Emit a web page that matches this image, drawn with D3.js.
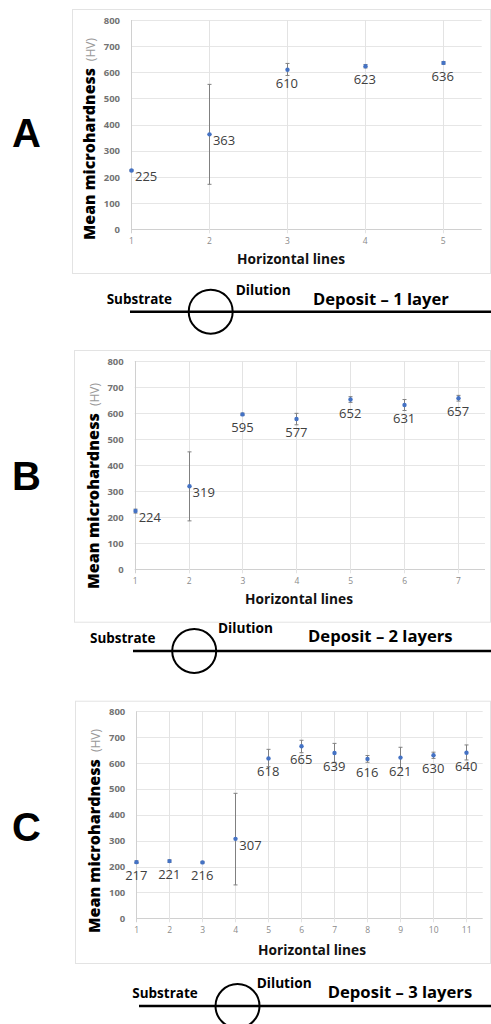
<!DOCTYPE html>
<html><head><meta charset="utf-8">
<script src="https://cdn.jsdelivr.net/npm/d3@7"></script>
<style>
html,body{margin:0;padding:0;background:#fff;}
svg{display:block;}
</style></head>
<body>
<svg id="chart" width="491" height="1024"></svg>
<script>
// ---------- DATA ----------
const linesA = [1, 2, 3, 4, 5];
const meanA  = [225, 363, 610, 623, 636];
const lowA   = [222, 172, 588, 617, 631];
const highA  = [228, 554, 634, 630, 641];
const labelPosA = ["right", "right", "below", "below", "below"];

const linesB = [1, 2, 3, 4, 5, 6, 7];
const meanB  = [224, 319, 595, 577, 652, 631, 657];
const lowB   = [216, 186, 591, 555, 641, 610, 646];
const highB  = [231, 451, 600, 599, 663, 652, 668];
const labelPosB = ["right", "right", "below", "below", "below", "below", "below"];

const linesC = [1, 2, 3, 4, 5, 6, 7, 8, 9, 10, 11];
const meanC  = [217, 221, 216, 307, 618, 665, 639, 616, 621, 630, 640];
const lowC   = [212, 216, 213, 129, 586, 640, 603, 603, 582, 618, 612];
const highC  = [222, 226, 220, 483, 653, 688, 676, 629, 661, 642, 670];
const labelPosC = ["below", "below", "below", "right", "below", "below", "below", "below", "below", "below", "below"];

const yTicks = [0, 100, 200, 300, 400, 500, 600, 700, 800];
const panelLetters = ["A", "B", "C"];
const yTitleMain = "Mean microhardness";
const yTitleUnit = "(HV)";
const xTitle = "Horizontal lines";
const depositLabels = ["Deposit \u2013 1 layer", "Deposit \u2013 2 layers", "Deposit \u2013 3 layers"];
const substrateLabel = "Substrate";
const dilutionLabel = "Dilution";

// ---------- LAYOUT ----------
const panels = [
  { lines: linesA, mean: meanA, low: lowA, high: highA, pos: labelPosA,
    box: [72, 9, 490, 273], px: [131, 481.7], py: [229.3, 20],
    letterY: 146.5, yTitle: { x: 95, y: 240, w: 172 }, xTitleAt: [291, 263.5],
    diag: { lineY: 311.7, lineX: 130, cx: 210.7, r: 22, sub: [106.7, 304], dil: [235.7, 295], dep: [313, 305, 136] } },
  { lines: linesB, mean: meanB, low: lowB, high: highB, pos: labelPosB,
    box: [74, 350, 490, 621.7], px: [134.7, 485], py: [569.3, 361],
    letterY: 490, yTitle: { x: 99, y: 589, w: 176 }, xTitleAt: [299, 604],
    diag: { lineY: 651, lineX: 133, cx: 194.2, r: 22, sub: [90, 643.3], dil: [218, 633.3], dep: [308, 642.3, 144.7] } },
  { lines: linesC, mean: meanC, low: lowC, high: highC, pos: labelPosC,
    box: [75, 700.7, 490, 963], px: [136.3, 482.7], py: [918.3, 711.3],
    letterY: 840.5, yTitle: { x: 99.5, y: 933, w: 174 }, xTitleAt: [312, 955],
    diag: { lineY: 1006, lineX: 139, cx: 237.5, r: 22, sub: [132.3, 998.3], dil: [256.7, 988.3], dep: [327.7, 998.3, 144.6] } }
];

const svg = d3.select("#chart");
const FONT = "'Open Sans', 'DejaVu Sans', sans-serif";

// scale a text's font size so that its natural width matches a target width
function fitWidth(sel, target) {
  const w = sel.node().getComputedTextLength();
  if (w > 0) sel.attr("font-size", (+sel.attr("font-size")) * target / w);
  return sel;
}

panels.forEach((p, i) => {
  const g = svg.append("g");
  const n = p.lines.length;
  const x = d3.scaleLinear().domain([p.lines[0], p.lines[n - 1] + 0.5]).range(p.px);
  const y = d3.scaleLinear().domain([0, 800]).range(p.py);

  // chart frame
  g.append("rect")
    .attr("x", p.box[0] + 0.5).attr("y", p.box[1] + 0.5)
    .attr("width", p.box[2] - p.box[0]).attr("height", p.box[3] - p.box[1])
    .attr("fill", "#fff").attr("stroke", "#e3e3e3").attr("stroke-width", 1);

  // horizontal gridlines
  g.append("g").selectAll("line").data(yTicks).join("line")
    .attr("x1", x.range()[0]).attr("x2", x.range()[1])
    .attr("y1", d => Math.round(y(d)) + 0.5).attr("y2", d => Math.round(y(d)) + 0.5)
    .attr("stroke", d => d === 0 ? "#d0d0d0" : "#e6e6e6").attr("stroke-width", 1);

  // vertical gridlines (with ticks below axis)
  g.append("g").selectAll("line").data(p.lines).join("line")
    .attr("x1", d => Math.round(x(d)) + 0.5).attr("x2", d => Math.round(x(d)) + 0.5)
    .attr("y1", y(800)).attr("y2", y(0) + 4)
    .attr("stroke", d => d === p.lines[0] ? "#d0d0d0" : "#e3e3e3").attr("stroke-width", 1);

  // y axis labels
  const yAxis = d3.axisLeft(y).tickValues(yTicks).tickSize(0).tickPadding(11);
  const ya = g.append("g").attr("transform", `translate(${x.range()[0]},0)`).call(yAxis);
  ya.select(".domain").remove();
  ya.selectAll("text").attr("font-family", FONT).attr("font-size", 9.5)
    .attr("font-weight", "bold").attr("fill", "#737373");

  // x axis labels
  const xAxis = d3.axisBottom(x).tickValues(p.lines).tickFormat(d3.format("d")).tickSize(0).tickPadding(9);
  const xa = g.append("g").attr("transform", `translate(0,${y(0)})`).call(xAxis);
  xa.select(".domain").remove();
  xa.selectAll("text").attr("font-family", FONT).attr("font-size", 8.5).attr("fill", "#8a8a8a");

  // error bars
  const eb = g.append("g").attr("stroke", "#808080").attr("stroke-width", 1);
  p.lines.forEach((l, k) => {
    const cx = Math.round(x(l)) + 0.5;
    eb.append("line").attr("x1", cx).attr("x2", cx).attr("y1", y(p.low[k])).attr("y2", y(p.high[k]));
    eb.append("line").attr("x1", cx - 2).attr("x2", cx + 2).attr("y1", y(p.low[k])).attr("y2", y(p.low[k]));
    eb.append("line").attr("x1", cx - 2).attr("x2", cx + 2).attr("y1", y(p.high[k])).attr("y2", y(p.high[k]));
  });

  // points
  g.append("g").selectAll("circle").data(p.lines).join("circle")
    .attr("cx", d => Math.round(x(d)) + 0.5).attr("cy", (d, k) => y(p.mean[k]))
    .attr("r", 2.2).attr("fill", "#4472c4");

  // value labels
  g.append("g").selectAll("text").data(p.lines).join("text")
    .attr("x", (d, k) => p.pos[k] === "right" ? x(d) + 4 : x(d))
    .attr("y", (d, k) => p.pos[k] === "right" ? y(p.mean[k]) + 11 : y(p.mean[k]) + 18)
    .attr("text-anchor", (d, k) => p.pos[k] === "right" ? "start" : "middle")
    .attr("font-family", FONT).attr("font-size", 13).attr("fill", "#404040")
    .text((d, k) => p.mean[k]);

  // y title
  const yt = g.append("text")
    .attr("transform", `translate(${p.yTitle.x},${p.yTitle.y}) rotate(-90)`)
    .attr("font-family", FONT);
  const ytm = yt.append("tspan").attr("font-size", 16).attr("font-weight", 800).attr("fill", "#000").text(yTitleMain);
  fitWidth(ytm, p.yTitle.w);
  yt.append("tspan").attr("font-size", 12).attr("fill", "#9a9a9a").attr("dx", 7).text(yTitleUnit);

  // x title
  const xt = g.append("text").attr("x", p.xTitleAt[0]).attr("y", p.xTitleAt[1])
    .attr("text-anchor", "middle").attr("font-family", FONT).attr("font-size", 12.5)
    .attr("font-weight", "bold").attr("fill", "#111").text(xTitle);
  fitWidth(xt, 108);

  // panel letter
  g.append("text").attr("x", 12).attr("y", p.letterY)
    .attr("font-family", "'Liberation Sans', Arial, sans-serif").attr("font-size", 40)
    .attr("font-weight", "bold").attr("fill", "#000").text(panelLetters[i]);

  // schematic diagram
  const d = p.diag;
  g.append("line").attr("x1", d.lineX).attr("x2", 491).attr("y1", d.lineY).attr("y2", d.lineY)
    .attr("stroke", "#000").attr("stroke-width", 2.4);
  g.append("circle").attr("cx", d.cx).attr("cy", d.lineY).attr("r", d.r)
    .attr("fill", "none").attr("stroke", "#000").attr("stroke-width", 2);
  const st = g.append("text").attr("x", d.sub[0]).attr("y", d.sub[1]).attr("font-family", FONT)
    .attr("font-size", 12).attr("font-weight", "bold").attr("fill", "#000").text(substrateLabel);
  fitWidth(st, 65.5);
  const dt = g.append("text").attr("x", d.dil[0]).attr("y", d.dil[1]).attr("font-family", FONT)
    .attr("font-size", 12).attr("font-weight", "bold").attr("fill", "#000").text(dilutionLabel);
  fitWidth(dt, 55);
  const dp = g.append("text").attr("x", d.dep[0]).attr("y", d.dep[1]).attr("font-family", FONT)
    .attr("font-size", 15).attr("font-weight", "bold").attr("fill", "#000").text(depositLabels[i]);
  fitWidth(dp, d.dep[2]);
});
</script>
</body></html>
